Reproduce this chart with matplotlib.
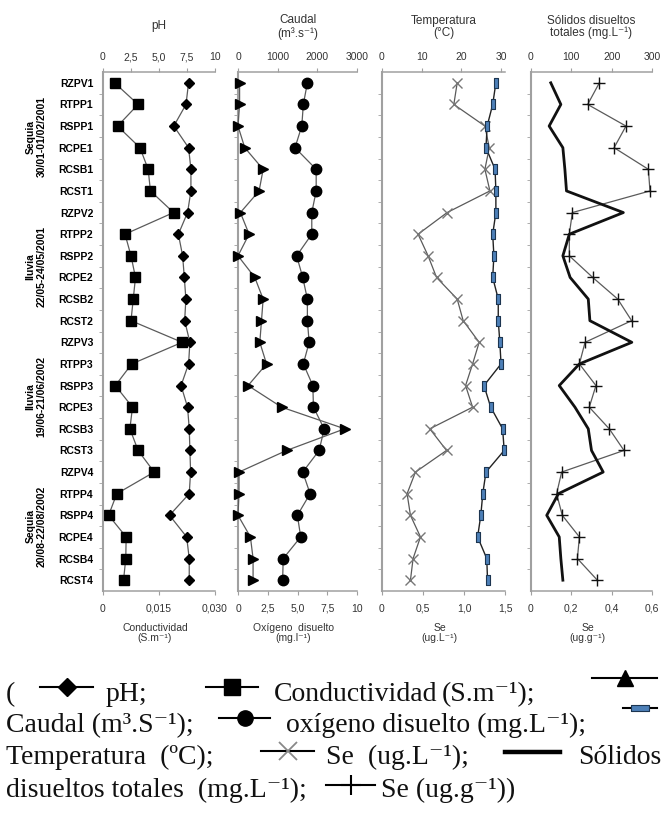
import numpy as np
import matplotlib.pyplot as plt
from matplotlib.lines import Line2D
from matplotlib.transforms import blended_transform_factory

sites = ['RZPV1', 'RTPP1', 'RSPP1', 'RCPE1', 'RCSB1', 'RCST1',
         'RZPV2', 'RTPP2', 'RSPP2', 'RCPE2', 'RCSB2', 'RCST2',
         'RZPV3', 'RTPP3', 'RSPP3', 'RCPE3', 'RCSB3', 'RCST3',
         'RZPV4', 'RTPP4', 'RSPP4', 'RCPE4', 'RCSB4', 'RCST4']
campaigns = ['Sequia\n30/01-01/02/2001', 'lluvia\n22/05-24/05/2001',
             'lluvia\n19/06-21/06/2002', 'Sequia\n20/08-22/08/2002']

ph = [7.64, 7.41, 6.32, 7.64, 7.85, 7.85, 7.55, 6.73, 7.11, 7.26, 7.40, 7.29,
      7.76, 7.64, 6.97, 7.55, 7.70, 7.76, 7.82, 7.70, 5.94, 7.47, 7.70, 7.70]
conductividad = [0.0031, 0.0094, 0.0039, 0.0099, 0.0121, 0.0127, 0.0189, 0.0059,
                 0.0075, 0.0087, 0.0081, 0.0075, 0.0212, 0.0077, 0.0033, 0.0079,
                 0.0072, 0.0094, 0.0137, 0.0037, 0.0015, 0.0062, 0.0061, 0.0055]
caudal = [40, 40, 0, 170, 634, 532, 60, 279, 0, 423, 634, 592,
          550, 719, 254, 1100, 2690, 1226, 25, 25, 0, 313, 380, 380]
oxigeno = [5.83, 5.49, 5.36, 4.79, 6.57, 6.57, 6.20, 6.20, 4.93, 5.44, 5.83, 5.83,
           5.98, 5.49, 6.29, 6.34, 7.24, 6.82, 5.44, 6.06, 4.99, 5.27, 3.80, 3.75]
temperatura = [28.7, 27.9, 26.5, 26.2, 28.5, 28.7, 28.7, 27.9, 28.2, 27.9, 29.3, 29.3,
               29.7, 30.0, 25.7, 27.4, 30.4, 30.8, 26.2, 25.4, 24.9, 24.1, 26.4, 26.6]
se_agua = [0.917, 0.876, 1.255, 1.308, 1.255, 1.316, 0.794, 0.440, 0.562, 0.665, 0.917, 0.990,
           1.185, 1.105, 1.019, 1.105, 0.583, 0.787, 0.408, 0.306, 0.347, 0.469, 0.379, 0.347]
solidos = [49, 74, 45, 79, 84, 88, 229, 95, 79, 97, 142, 146,
           250, 120, 70, 109, 142, 150, 179, 68, 39, 70, 74, 79]
se_sedimento = [0.339, 0.281, 0.471, 0.412, 0.582, 0.590, 0.205, 0.190, 0.190, 0.306, 0.430, 0.499,
                0.268, 0.240, 0.322, 0.289, 0.388, 0.461, 0.152, 0.127, 0.155, 0.240, 0.230, 0.329]

ph_ticks = [0, 2.5, 5, 7.5, 10]
ph_labels = ['0', '2,5', '5,0', '7,5', '10']
cond_ticks = [0, 0.015, 0.030]
cond_labels = ['0', '0,015', '0,030']
caudal_ticks = [0, 1000, 2000, 3000]
caudal_labels = ['0', '1000', '2000', '3000']
oxi_ticks = [0, 2.5, 5, 7.5, 10]
oxi_labels = ['0', '2,5', '5,0', '7,5', '10']
temp_ticks = [0, 10, 20, 30]
temp_labels = ['0', '10', '20', '30']
seag_ticks = [0, 0.5, 1.0, 1.5]
seag_labels = ['0', '0,5', '1,0', '1,5']
sol_ticks = [0, 100, 200, 300]
sol_labels = ['0', '100', '200', '300']
sesed_ticks = [0, 0.2, 0.4, 0.6]
sesed_labels = ['0', '0,2', '0,4', '0,6']

plt.rcParams['font.family'] = ['Liberation Sans', 'DejaVu Sans']

W, H = 663, 819
fig = plt.figure(figsize=(W / 100, H / 100), dpi=100)


def fx(x):
    return x / W


def fy(y):
    return 1 - y / H


spine_c = '#a0a0a0'
line_c = '#5a5a5a'
txt_c = '#333333'
top_px, bot_px = 72, 591
rows = np.arange(len(sites))

rect = [(-0.35, -1), (0.35, -1), (0.35, 1), (-0.35, 1), (-0.35, -1)]
rect_h = [(-1, -0.35), (1, -0.35), (1, 0.35), (-1, 0.35), (-1, -0.35)]

styles = {
    'ph': dict(marker='D', ms=5.5, mfc='k', mec='k', color=line_c, lw=0.9),
    'cond': dict(marker='s', ms=7.5, mfc='k', mec='k', color=line_c, lw=0.9),
    'caudal': dict(marker='>', ms=7.5, mfc='k', mec='k', color=line_c, lw=0.9),
    'oxi': dict(marker='o', ms=7.5, mfc='k', mec='k', color=line_c, lw=0.9),
    'temp': dict(marker=rect, ms=7, mfc='#4d80b8', mec='#1c3550', mew=0.8, color='#222222', lw=1.0),
    'seag': dict(marker='x', ms=7, mec='#777777', mew=1.0, color=line_c, lw=0.9),
    'sol': dict(color='#111111', lw=2.0),
    'sesed': dict(marker='+', ms=8, mec='#111111', mew=1.0, color=line_c, lw=0.9),
}

panels = [
    dict(l=103, r=215, top=ph, top_st='ph', top_lim=(0, 10), top_t=ph_ticks, top_l=ph_labels,
         bot=conductividad, bot_st='cond', bot_lim=(0, 0.030), bot_t=cond_ticks, bot_l=cond_labels,
         title='pH', xlabel='Conductividad\n(S.m⁻¹)'),
    dict(l=238, r=357, top=caudal, top_st='caudal', top_lim=(0, 3000), top_t=caudal_ticks, top_l=caudal_labels,
         bot=oxigeno, bot_st='oxi', bot_lim=(0, 10), bot_t=oxi_ticks, bot_l=oxi_labels,
         title='Caudal\n(m³.s⁻¹)', xlabel='Oxígeno  disuelto\n(mg.l⁻¹)'),
    dict(l=382, r=505, top=temperatura, top_st='temp', top_lim=(0, 31), top_t=temp_ticks, top_l=temp_labels,
         bot=se_agua, bot_st='seag', bot_lim=(0, 1.5), bot_t=seag_ticks, bot_l=seag_labels,
         title='Temperatura\n(°C)', xlabel='Se\n(ug.L⁻¹)'),
    dict(l=531, r=652, top=solidos, top_st='sol', top_lim=(0, 300), top_t=sol_ticks, top_l=sol_labels,
         bot=se_sedimento, bot_st='sesed', bot_lim=(0, 0.6), bot_t=sesed_ticks, bot_l=sesed_labels,
         title='Sólidos disueltos\ntotales (mg.L⁻¹)', xlabel='Se\n(ug.g⁻¹)'),
]

first_ax = None
for i, p in enumerate(panels):
    ax = fig.add_axes([fx(p['l']), fy(bot_px), fx(p['r']) - fx(p['l']), (bot_px - top_px) / H])
    ax.set_ylim(23.5, -0.5)
    axt = ax.twiny()
    ax.plot(p['bot'], rows, clip_on=False, **styles[p['bot_st']])
    axt.plot(p['top'], rows, clip_on=False, **styles[p['top_st']])
    ax.set_xlim(*p['bot_lim'])
    axt.set_xlim(*p['top_lim'])
    ax.set_xticks(p['bot_t'])
    ax.set_xticklabels(p['bot_l'])
    axt.set_xticks(p['top_t'])
    axt.set_xticklabels(p['top_l'])
    for a in (ax, axt):
        for s in a.spines.values():
            s.set_visible(False)
    for s in (ax.spines['left'], ax.spines['bottom'], axt.spines['top']):
        s.set_visible(True)
        s.set_color(spine_c)
        s.set_linewidth(1.1)
    ax.spines['left'].set_linewidth(1.5)
    ax.tick_params(axis='x', length=3, color=spine_c, labelsize=7.5, labelcolor=txt_c, pad=6)
    axt.tick_params(axis='x', length=3, color=spine_c, labelsize=7.5, labelcolor=txt_c, pad=4)
    ax.set_yticks(rows)
    ax.set_yticks(np.arange(0.5, 23, 1), minor=True)
    ax.tick_params(axis='y', which='major', length=0, pad=7)
    ax.tick_params(axis='y', which='minor', length=3, color=spine_c, direction='out')
    if i == 0:
        ax.set_yticklabels(sites, fontweight='bold', fontsize=7.5)
        first_ax = ax
    else:
        ax.tick_params(axis='y', labelleft=False)
    cx = fx((p['l'] + p['r']) / 2)
    if '\n' in p['title']:
        fig.text(cx, fy(27), p['title'], ha='center', va='center', fontsize=8.5,
                 color=txt_c, linespacing=1.05)
    else:
        fig.text(cx, fy(26), p['title'], ha='center', va='center', fontsize=8.5, color=txt_c)
    fig.text(cx - 4 / W, fy(633), p['xlabel'], ha='center', va='center', fontsize=7.5,
             color=txt_c, linespacing=1.0)

# campaign labels on the left
tr = blended_transform_factory(fig.transFigure, first_ax.transData)
for k, c in enumerate(campaigns):
    fig.text(fx(36), 6 * k + 2.5, c, transform=tr, rotation=90, ha='center', va='center',
             fontsize=7.5, fontweight='bold', multialignment='center', linespacing=1.1)

# legend paragraph below the chart
serif = ['Liberation Serif', 'DejaVu Serif']
fs = 20


def put(x, y, s, ha='left'):
    fig.text(fx(x), fy(y), s, ha=ha, va='baseline', fontsize=fs, family=serif, color='#111111')


def sample(x0, x1, y, **kw):
    lw = kw.pop('lw', 1.5)
    fig.add_artist(Line2D([fx(x0), fx(x1)], [fy(y), fy(y)], color='k', lw=lw))
    if 'marker' in kw:
        fig.add_artist(Line2D([fx((x0 + x1) / 2)], [fy(y)], lw=0, **kw))


b1, b2, b3, b4 = 701, 732, 764, 797
put(6, b1, '(')
sample(40, 93, b1 - 14, marker='D', ms=9, mfc='k', mec='k')
put(106, b1, 'pH;')
sample(206, 258, b1 - 14, marker='s', ms=12, mfc='k', mec='k')
put(274, b1, 'Conductividad')
put(442, b1, '(S.m⁻¹);')
sample(592, 657, b1 - 23, marker='^', ms=11, mfc='k', mec='k')

put(6, b2, 'Caudal (m³.S⁻¹);')
sample(219, 270, b2 - 14, marker='o', ms=11, mfc='k', mec='k')
put(286, b2, 'oxígeno disuelto (mg.L⁻¹);')
sample(623, 657, b2 - 24, marker=rect_h, ms=13, mfc='#4d80b8', mec='#1c3550', mew=0.8)

put(6, b3, 'Temperatura  (ºC);')
sample(261, 314, b3 - 13, marker='x', ms=13, mec='#888888', mew=1.3)
put(326, b3, 'Se  (ug.L⁻¹);')
sample(505, 560, b3 - 12, lw=3.2)
put(661, b3, 'Sólidos', ha='right')

put(6, b4, 'disueltos totales  (mg.L⁻¹);')
sample(326, 375, b4 - 12, marker='+', ms=15, mec='k', mew=1.5)
put(381, b4, 'Se (ug.g⁻¹))')

fig.savefig('out.png', dpi=100)
